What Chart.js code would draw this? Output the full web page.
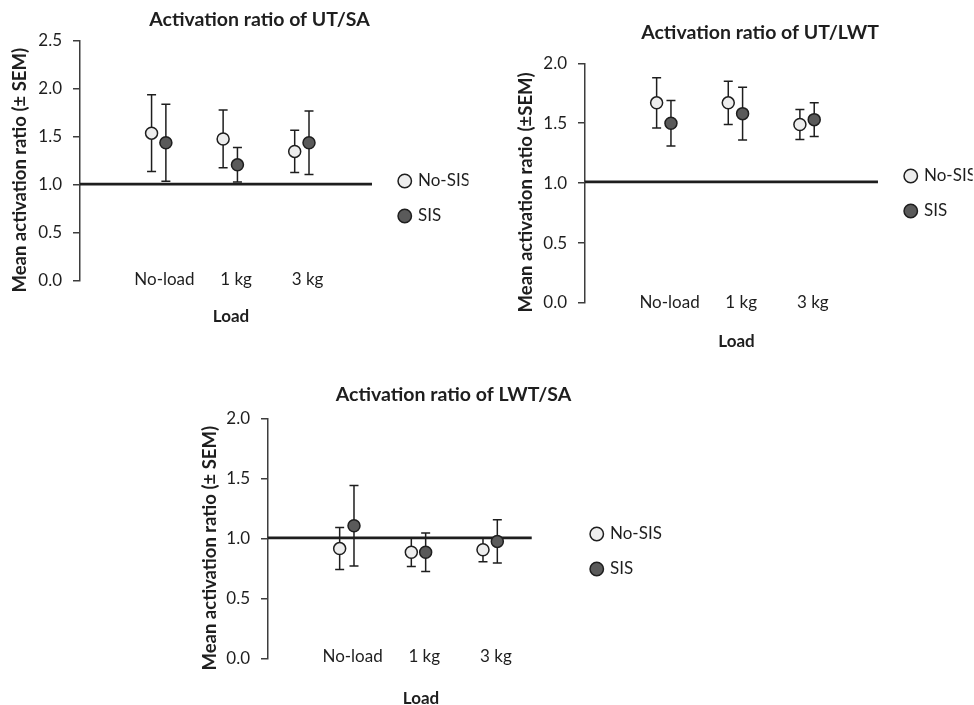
<!DOCTYPE html>
<html>
<head>
<meta charset="utf-8">
<script src="https://cdn.jsdelivr.net/npm/chart.js@4.4.1/dist/chart.umd.min.js"></script>
<style>
  html, body { margin: 0; padding: 0; background: #fff; width: 974px; height: 705px; overflow: hidden; }
  canvas { position: absolute; }
</style>
</head>
<body>
<canvas id="c1" width="519" height="340" style="left:0px;top:0px"></canvas>
<canvas id="c2" width="508" height="360" style="left:506px;top:0px"></canvas>
<canvas id="c3" width="527" height="345" style="left:190px;top:370px"></canvas>
<script>
// data
const categories = ["No-load", "1 kg", "3 kg"];
const seriesNames = ["No-SIS", "SIS"];

const utSaNoSis = [1.54, 1.48, 1.35];
const utSaNoSisSem = [0.40, 0.30, 0.22];
const utSaSis = [1.44, 1.21, 1.44];
const utSaSisSem = [0.40, 0.18, 0.33];

const utLwtNoSis = [1.67, 1.67, 1.49];
const utLwtNoSisSem = [0.21, 0.18, 0.125];
const utLwtSis = [1.50, 1.58, 1.53];
const utLwtSisSem = [0.19, 0.22, 0.14];

const lwtSaNoSis = [0.92, 0.89, 0.91];
const lwtSaNoSisSem = [0.175, 0.12, 0.10];
const lwtSaSis = [1.11, 0.89, 0.98];
const lwtSaSisSem = [0.335, 0.16, 0.18];

const yTicksUtSa = [0, 0.5, 1.0, 1.5, 2.0, 2.5];
const yTicksOther = [0, 0.5, 1.0, 1.5, 2.0];

const refValue = 1.01;
const refLineEnds = [4.08, 4.09, 3.68];

// style
const FONT = "Lato";
const INK = "#1e1e1e";
const AXIS = "#3d3d3d";
const LIGHT = "#ededed";
const DARK = "#5a5a5a";
const SIS_SHIFT = 0.2;
const LABEL_SHIFT = 0.18;
const TITLE_NUDGE = "\u2002\u2002"; // pushes the rotated axis title a little lower

const errorBars = {
  id: "errorBars",
  beforeDatasetsDraw(chart) {
    const { ctx } = chart;
    const x = chart.scales.x, y = chart.scales.y;
    ctx.save();
    ctx.strokeStyle = INK;
    ctx.lineWidth = 1.5;
    chart.data.datasets.forEach((ds) => {
      if (!ds.sem) return;
      ds.data.forEach((p, i) => {
        const px = x.getPixelForValue(p.x);
        const top = y.getPixelForValue(p.y + ds.sem[i]);
        const bot = y.getPixelForValue(p.y - ds.sem[i]);
        ctx.beginPath();
        ctx.moveTo(px, top); ctx.lineTo(px, bot);
        ctx.moveTo(px - 4.5, top); ctx.lineTo(px + 4.5, top);
        ctx.moveTo(px - 4.5, bot); ctx.lineTo(px + 4.5, bot);
        ctx.stroke();
      });
    });
    ctx.restore();
  }
};

const panels = [
  {
    id: "c1", title: "Activation ratio of UT/SA", yTitle: "Mean activation ratio (± SEM)",
    noSis: utSaNoSis, noSisSem: utSaNoSisSem, sis: utSaSis, sisSem: utSaSisSem,
    yTicks: yTicksUtSa, refEnd: refLineEnds[0],
    lay: { width: 519, axisW: 80, plotRight: 382, xMax: 4.22, xAxisH: 59, loadPad: 13, catPad: -8.5,
           titlePad: { top: 8.3, bottom: 9.3 }, legendTitlePad: 42.6 }
  },
  {
    id: "c2", title: "Activation ratio of UT/LWT", yTitle: "Mean activation ratio (±SEM)",
    noSis: utLwtNoSis, noSisSem: utLwtNoSisSem, sis: utLwtSis, sisSem: utLwtSisSem,
    yTicks: yTicksOther, refEnd: refLineEnds[1],
    lay: { width: 508, axisW: 79, plotRight: 382, xMax: 4.23, xAxisH: 57, loadPad: 8, catPad: -10,
           titlePad: { top: 20.8, bottom: 19.1 }, legendTitlePad: 12.6 }
  },
  {
    id: "c3", title: "Activation ratio of LWT/SA", yTitle: "Mean activation ratio (± SEM)",
    noSis: lwtSaNoSis, noSisSem: lwtSaNoSisSem, sis: lwtSaSis, sisSem: lwtSaSisSem,
    yTicks: yTicksOther, refEnd: refLineEnds[2],
    lay: { width: 527, axisW: 78, plotRight: 384, xMax: 4.27, xAxisH: 56, loadPad: 6.5, catPad: -8,
           titlePad: { top: 13.3, bottom: 12.3 }, legendTitlePad: 3.6 }
  }
];

function drawPanel(p) {
  const lay = p.lay;
  new Chart(document.getElementById(p.id), {
    type: "scatter",
    data: {
      datasets: [
        {
          label: seriesNames[0],
          data: categories.map((c, i) => ({ x: i + 1, y: p.noSis[i] })),
          sem: p.noSisSem,
          backgroundColor: LIGHT, borderColor: INK, borderWidth: 1.5,
          pointRadius: 6, pointStyle: "circle", xAxisID: "x", yAxisID: "y"
        },
        {
          label: seriesNames[1],
          data: categories.map((c, i) => ({ x: i + 1 + SIS_SHIFT, y: p.sis[i] })),
          sem: p.sisSem,
          backgroundColor: DARK, borderColor: INK, borderWidth: 1.5,
          pointRadius: 6, pointStyle: "circle", xAxisID: "x", yAxisID: "y"
        },
        {
          label: "ref",
          data: [{ x: 0, y: refValue }, { x: p.refEnd, y: refValue }],
          showLine: true, borderColor: INK, borderWidth: 2.8, pointRadius: 0,
          xAxisID: "x", yAxisID: "y"
        }
      ]
    },
    options: {
      responsive: false,
      animation: false,
      layout: { padding: 0 },
      scales: {
        x: {
          type: "linear", position: "bottom", min: 0, max: lay.xMax,
          afterBuildTicks: (s) => { s.ticks = categories.map((c, i) => ({ value: i + 1 + LABEL_SHIFT })); },
          ticks: {
            callback: (v, i) => categories[i],
            autoSkip: false, maxRotation: 0, mirror: true, padding: lay.catPad,
            font: { family: FONT, size: 17 }, color: INK
          },
          grid: { display: false, drawTicks: false },
          border: { display: false },
          title: {
            display: true, text: "Load",
            font: { family: FONT, size: 17, weight: "bold" }, color: INK,
            padding: { top: 0, bottom: lay.loadPad }
          },
          afterFit: (s) => { s.height = lay.xAxisH; }
        },
        y: {
          type: "linear", position: "left", min: 0, max: p.yTicks[p.yTicks.length - 1],
          afterBuildTicks: (s) => { s.ticks = p.yTicks.map((v) => ({ value: v })); },
          ticks: {
            callback: (v) => v.toFixed(1), padding: 11,
            font: { family: FONT, size: 17 }, color: INK
          },
          grid: { display: true, drawOnChartArea: false, drawTicks: true, tickLength: 7, color: AXIS, lineWidth: 1.5 },
          border: { display: true, color: AXIS, width: 1.5 },
          title: {
            display: true, text: p.yTitle + TITLE_NUDGE,
            font: { family: FONT, size: 18.5, weight: "bold" }, color: INK,
            padding: { top: 9, bottom: 0 }
          },
          afterFit: (s) => { s.width = lay.axisW; }
        },
        gap: {
          type: "linear", position: "right", weight: 1100, display: true,
          grid: { display: false }, border: { display: false }, ticks: { display: false },
          afterFit: (s) => {
            const legendW = s.chart.legend ? s.chart.legend.width : 0;
            s.width = Math.max(0, lay.width - lay.plotRight - legendW);
          }
        }
      },
      plugins: {
        title: {
          display: true, text: p.title,
          font: { family: FONT, size: 19.5, weight: "bold" }, color: INK,
          padding: lay.titlePad
        },
        legend: {
          position: "right", align: "center",
          title: { display: true, text: " ", font: { size: 12 }, padding: { top: lay.legendTitlePad, bottom: 0 } },
          labels: {
            usePointStyle: true, boxWidth: 9.5, boxHeight: 9.5, padding: 18,
            font: { family: FONT, size: 17 }, color: INK,
            filter: (item) => item.datasetIndex < 2
          }
        },
        tooltip: { enabled: false }
      }
    },
    plugins: [errorBars]
  });
}

Promise.all([
  document.fonts.load("17px Lato"),
  document.fonts.load("bold 17px Lato")
]).catch(() => {}).then(() => panels.forEach(drawPanel));
</script>
</body>
</html>
